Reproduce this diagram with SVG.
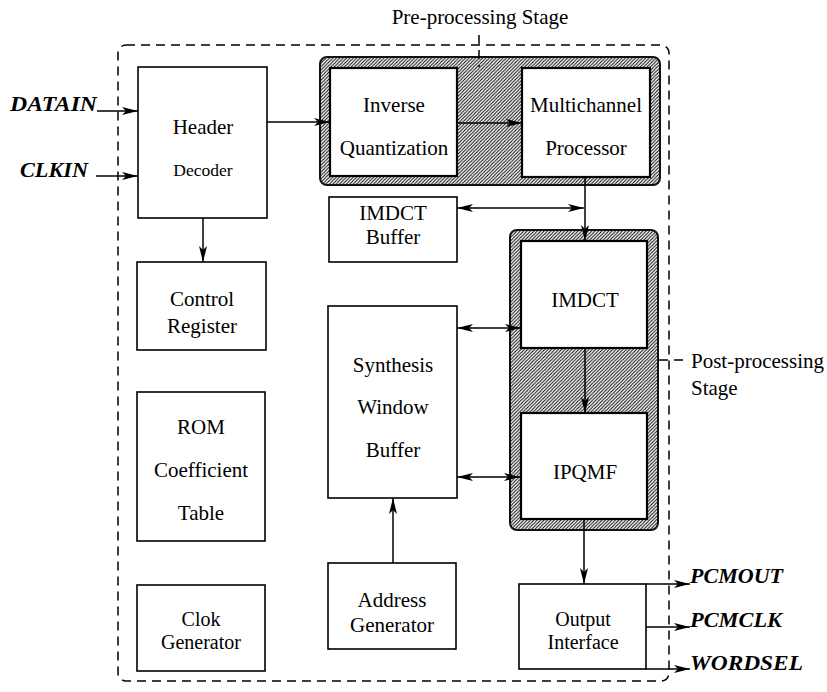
<svg xmlns="http://www.w3.org/2000/svg" width="827" height="692" viewBox="0 0 827 692">
  <defs>
    <pattern id="hatch" patternUnits="userSpaceOnUse" width="3.4" height="3.4">
      <rect width="3.4" height="3.4" fill="#fff"/>
      <path d="M0,3.4 L3.4,0 M-1,1 L1,-1 M2.4,4.4 L4.4,2.4" stroke="#000" stroke-width="1"/>
    </pattern>
    <marker id="arr" viewBox="0 0 16 8" refX="16" refY="4" markerWidth="16" markerHeight="8" markerUnits="userSpaceOnUse" orient="auto-start-reverse">
      <path d="M0,0 L16,4 L0,8 L4,4 Z" fill="#000"/>
    </marker>
  </defs>
  <style>
    .box { fill: #fff; stroke: #000; stroke-width: 1.6; }
    .inner { fill: #fff; stroke: #000; stroke-width: 2.2; }
    .stage { fill: url(#hatch); stroke: #111; stroke-width: 2; }
    text { font-family: "Liberation Serif", Tinos, "Times New Roman", Times, "DejaVu Serif", serif; fill: #000; }
    .lbl { font-size: 21px; text-anchor: middle; }
    .tight { font-size: 20px; }
    .note { font-size: 21px; }
    .sig { font-size: 20px; font-weight: bold; font-style: italic; }
    .wire { fill: none; stroke: #000; stroke-width: 1.5; }
    .dash { fill: none; stroke: #000; stroke-width: 1.5; stroke-dasharray: 9 6; }
  </style>

  <!-- chip boundary -->
  <rect class="dash" x="118" y="45" width="551" height="636" rx="8"/>

  <!-- pipeline stage outlines -->
  <g id="pre-stage">
    <rect class="stage" x="320" y="57" width="340" height="128" rx="7"/>
    <path class="dash" d="M479,35 V67" stroke-dasharray="6 5"/>
    <text class="note" x="480" y="24" text-anchor="middle">Pre-processing Stage</text>
  </g>
  <g id="post-stage">
    <rect class="stage" x="510" y="230" width="148" height="300" rx="7"/>
    <path class="dash" d="M659,360 H684" stroke-dasharray="6 4"/>
    <text class="note" x="691" y="368">Post-processing</text>
    <text class="note" x="691" y="395">Stage</text>
  </g>

  <g id="header-decoder">
    <rect class="box" x="138" y="67" width="129" height="151"/>
    <text class="lbl" x="203" y="134">Header</text>
    <text class="lbl" x="203" y="176" style="font-size:17.5px">Decoder</text>
  </g>
  <g id="inverse-quantization">
    <rect class="inner" x="330" y="68" width="127" height="108"/>
    <text class="lbl" x="394" y="112">Inverse</text>
    <text class="lbl" x="394" y="155">Quantization</text>
  </g>
  <g id="multichannel-processor">
    <rect class="inner" x="522" y="68" width="128" height="109"/>
    <text class="lbl" x="586" y="112">Multichannel</text>
    <text class="lbl" x="586" y="155">Processor</text>
  </g>
  <g id="imdct-buffer">
    <rect class="box" x="329" y="197" width="128" height="65"/>
    <text class="lbl" x="393" y="220">IMDCT</text>
    <text class="lbl" x="393" y="244">Buffer</text>
  </g>
  <g id="control-register">
    <rect class="box" x="137" y="262" width="129" height="88"/>
    <text class="lbl" x="202" y="306">Control</text>
    <text class="lbl" x="202" y="333">Register</text>
  </g>
  <g id="rom-table">
    <rect class="box" x="137" y="392" width="128" height="149"/>
    <text class="lbl" x="201" y="434">ROM</text>
    <text class="lbl" x="201" y="477">Coefficient</text>
    <text class="lbl" x="201" y="520">Table</text>
  </g>
  <g id="clock-generator">
    <rect class="box" x="137" y="585" width="128" height="86"/>
    <text class="lbl tight" x="201" y="626">Clok</text>
    <text class="lbl tight" x="201" y="649">Generator</text>
  </g>
  <g id="synthesis-window-buffer">
    <rect class="box" x="328" y="306" width="129" height="192"/>
    <text class="lbl" x="393" y="372">Synthesis</text>
    <text class="lbl" x="393" y="414">Window</text>
    <text class="lbl" x="393" y="457">Buffer</text>
  </g>
  <g id="address-generator">
    <rect class="box" x="328" y="563" width="128" height="86"/>
    <text class="lbl" x="392" y="607">Address</text>
    <text class="lbl" x="392" y="632">Generator</text>
  </g>
  <g id="imdct">
    <rect class="inner" x="521" y="241" width="126" height="107"/>
    <text class="lbl" x="585" y="307">IMDCT</text>
  </g>
  <g id="ipqmf">
    <rect class="inner" x="521" y="413" width="126" height="106"/>
    <text class="lbl" x="585" y="479">IPQMF</text>
  </g>
  <g id="output-interface">
    <rect class="box" x="519" y="584" width="127" height="85"/>
    <text class="lbl tight" x="583" y="626">Output</text>
    <text class="lbl tight" x="583" y="649">Interface</text>
  </g>

  <!-- external pins -->
  <g id="pins">
    <text class="sig" x="10" y="111" textLength="87" lengthAdjust="spacingAndGlyphs">DATAIN</text>
    <text class="sig" x="20" y="177" textLength="68" lengthAdjust="spacingAndGlyphs">CLKIN</text>
    <text class="sig" x="690" y="583" textLength="93" lengthAdjust="spacingAndGlyphs">PCMOUT</text>
    <text class="sig" x="690" y="627" textLength="92" lengthAdjust="spacingAndGlyphs">PCMCLK</text>
    <text class="sig" x="690" y="670" textLength="113" lengthAdjust="spacingAndGlyphs">WORDSEL</text>
  </g>

  <g id="connectors">
    <path class="wire" d="M97,111 H138" marker-end="url(#arr)"/>
    <path class="wire" d="M96,176 H138" marker-end="url(#arr)"/>
    <path class="wire" d="M267,122 H330" marker-end="url(#arr)"/>
    <path class="wire" d="M457,123 H522" marker-end="url(#arr)"/>
    <path class="wire" d="M585,177 V241" marker-end="url(#arr)"/>
    <path class="wire" d="M457,208 H584" marker-start="url(#arr)" marker-end="url(#arr)"/>
    <path class="wire" d="M203,218 V262" marker-end="url(#arr)"/>
    <path class="wire" d="M585,348 V413" marker-end="url(#arr)"/>
    <path class="wire" d="M457,328 H521" marker-start="url(#arr)" marker-end="url(#arr)"/>
    <path class="wire" d="M457,477 H520" marker-start="url(#arr)" marker-end="url(#arr)"/>
    <path class="wire" d="M393,563 V498" marker-end="url(#arr)"/>
    <path class="wire" d="M584,519 V584" marker-end="url(#arr)"/>
    <path class="wire" d="M646,584 H690" marker-end="url(#arr)"/>
    <path class="wire" d="M646,627 H690" marker-end="url(#arr)"/>
    <path class="wire" d="M646,669 H690" marker-end="url(#arr)"/>
  </g>
</svg>
